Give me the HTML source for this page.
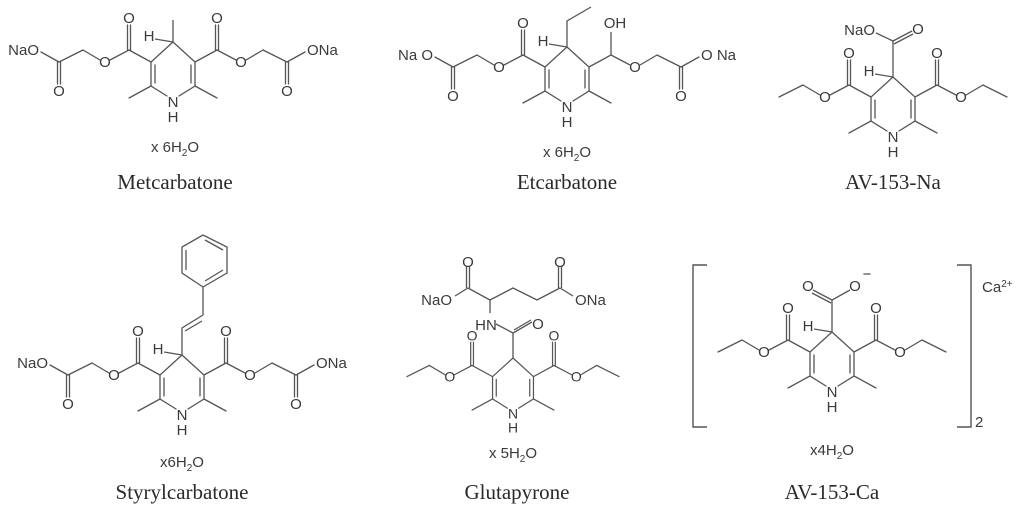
<!DOCTYPE html>
<html><head><meta charset="utf-8"><style>
html,body{margin:0;padding:0;background:#fff;}
svg{display:block;}
text{font-family:"Liberation Sans",Arial,sans-serif;font-size:15px;fill:#3a3a3a;}
.t{font-family:"Liberation Serif",serif;font-size:21px;fill:#2a2a2a;}
</style></head><body>
<svg width="1024" height="508" viewBox="0 0 1024 508" xmlns="http://www.w3.org/2000/svg">
<defs>
<g id="core" stroke="#555" stroke-width="1.3" fill="none" stroke-linecap="round">
  <path d="M0,0 L-22,20 L-22,44 L-6,54 M6,54 L22,44 L22,20 L0,0"/>
  <path d="M-18,23 L-18,41 M18,23 L18,41"/>
  <path d="M-22,44 L-44,56 M22,44 L44,56"/>
</g>
<g id="hb" stroke="#555" stroke-width="1.3" fill="none"><path d="M-18,-3 L0,0"/></g>
<g id="estL" stroke="#555" stroke-width="1.3" fill="none" stroke-linecap="round">
  <path d="M-22,20 L-44,8 M-45.5,8 L-45.5,-17 M-42.5,8 L-42.5,-17 M-44,8 L-63,18 M-73,18 L-90,8"/>
</g>
<g id="tailL" stroke="#555" stroke-width="1.3" fill="none" stroke-linecap="round">
  <path d="M-90,8 L-114,20 M-115.5,20 L-115.5,42 M-112.5,20 L-112.5,42 M-114,20 L-132,10"/>
</g>
<g id="ethL" stroke="#555" stroke-width="1.3" fill="none" stroke-linecap="round">
  <path d="M-90,8 L-114,20"/>
</g>
</defs>

<!-- Metcarbatone -->
<g transform="translate(173,42)">
  <use href="#core"/><use href="#hb"/><use href="#estL"/><use href="#tailL"/>
  <g transform="scale(-1,1)"><use href="#estL"/><use href="#tailL"/></g>
  <path d="M0,0 L0,-22" stroke="#555" stroke-width="1.3"/>
  <text x="-24" y="-1" text-anchor="middle">H</text>
  <text x="0" y="65" text-anchor="middle">N</text>
  <text x="0" y="80" text-anchor="middle">H</text>
  <text x="-44" y="-19" text-anchor="middle">O</text>
  <text x="44" y="-19" text-anchor="middle">O</text>
  <text x="-68" y="25" text-anchor="middle">O</text>
  <text x="68" y="25" text-anchor="middle">O</text>
  <text x="-114" y="54" text-anchor="middle">O</text>
  <text x="114" y="54" text-anchor="middle">O</text>
  <text x="-134" y="13" text-anchor="end">NaO</text>
  <text x="134" y="13" text-anchor="start">ONa</text>
  <text x="2" y="110" text-anchor="middle">x 6H<tspan font-size="10" dy="4">2</tspan><tspan dy="-4">O</tspan></text>
  <text class="t" x="2" y="147" text-anchor="middle">Metcarbatone</text>
</g>

<!-- Etcarbatone -->
<g transform="translate(567,47)">
  <use href="#core"/><use href="#hb"/><use href="#estL"/><use href="#tailL"/>
  <g transform="scale(-1,1)"><use href="#tailL"/></g>
  <path d="M0,0 L0,-26 L24,-40 M22,20 L44,8 L44,-15 M44,8 L63,18 M73,18 L90,8" stroke="#555" stroke-width="1.3" fill="none"/>
  <text x="-24" y="-1" text-anchor="middle">H</text>
  <text x="0" y="65" text-anchor="middle">N</text>
  <text x="0" y="80" text-anchor="middle">H</text>
  <text x="-44" y="-19" text-anchor="middle">O</text>
  <text x="48" y="-19" text-anchor="middle">OH</text>
  <text x="-68" y="25" text-anchor="middle">O</text>
  <text x="68" y="25" text-anchor="middle">O</text>
  <text x="-114" y="54" text-anchor="middle">O</text>
  <text x="114" y="54" text-anchor="middle">O</text>
  <text x="-134" y="13" text-anchor="end">Na O</text>
  <text x="134" y="13" text-anchor="start">O Na</text>
  <text x="0" y="110" text-anchor="middle">x 6H<tspan font-size="10" dy="4">2</tspan><tspan dy="-4">O</tspan></text>
  <text class="t" x="0" y="142" text-anchor="middle">Etcarbatone</text>
</g>

<!-- AV-153-Na -->
<g transform="translate(893,77)">
  <use href="#core"/><use href="#hb"/><use href="#estL"/><use href="#ethL"/>
  <g transform="scale(-1,1)"><use href="#estL"/><use href="#ethL"/></g>
  <path d="M0,0 L0,-36 L-17,-44 M0,-36 L19,-46 M1,-33 L20,-43" stroke="#555" stroke-width="1.3" fill="none"/>
  <text x="-24" y="-1" text-anchor="middle">H</text>
  <text x="0" y="65" text-anchor="middle">N</text>
  <text x="0" y="80" text-anchor="middle">H</text>
  <text x="-44" y="-19" text-anchor="middle">O</text>
  <text x="44" y="-19" text-anchor="middle">O</text>
  <text x="-68" y="25" text-anchor="middle">O</text>
  <text x="68" y="25" text-anchor="middle">O</text>
  <text x="-18" y="-42" text-anchor="end">NaO</text>
  <text x="25" y="-43" text-anchor="middle">O</text>
  <text class="t" x="0" y="112" text-anchor="middle">AV-153-Na</text>
</g>

<!-- Styrylcarbatone -->
<g transform="translate(182,355)">
  <use href="#core"/><use href="#hb"/><use href="#estL"/><use href="#tailL"/>
  <g transform="scale(-1,1)"><use href="#estL"/><use href="#tailL"/></g>
  <text x="-24" y="-1" text-anchor="middle">H</text>
  <text x="0" y="65" text-anchor="middle">N</text>
  <text x="0" y="80" text-anchor="middle">H</text>
  <text x="-44" y="-19" text-anchor="middle">O</text>
  <text x="44" y="-19" text-anchor="middle">O</text>
  <text x="-68" y="25" text-anchor="middle">O</text>
  <text x="68" y="25" text-anchor="middle">O</text>
  <text x="-114" y="54" text-anchor="middle">O</text>
  <text x="114" y="54" text-anchor="middle">O</text>
  <text x="-134" y="13" text-anchor="end">NaO</text>
  <text x="134" y="13" text-anchor="start">ONa</text>
  <text x="0" y="112" text-anchor="middle">x6H<tspan font-size="10" dy="4">2</tspan><tspan dy="-4">O</tspan></text>
  <text class="t" x="0" y="144" text-anchor="middle">Styrylcarbatone</text>
</g>
<path d="M182,355 L182,328 L203,315 M185,331 L202,321 M203,315 L203,287 M203,287 L182,273 L182,247 L203,235 L227,247 L227,273 L203,287 M186,250 L186,270 M205,240 L223,250 M223,270 L205,281" stroke="#555" stroke-width="1.3" fill="none"/>

<!-- Glutapyrone -->
<g transform="translate(513,358) scale(0.93)">
  <use href="#core"/><use href="#estL"/><use href="#ethL"/>
  <g transform="scale(-1,1)"><use href="#estL"/><use href="#ethL"/></g>
  <text x="0" y="65" text-anchor="middle">N</text>
  <text x="0" y="80" text-anchor="middle">H</text>
  <text x="-44" y="-19" text-anchor="middle">O</text>
  <text x="44" y="-19" text-anchor="middle">O</text>
  <text x="-68" y="25" text-anchor="middle">O</text>
  <text x="68" y="25" text-anchor="middle">O</text>
</g>
<path d="M513,358 L513,333 L532,322 M514,330 L531,320 M513,333 L496,324 M490,313 L490,300 L468,288 M466.5,288 L466.5,266 M469.5,288 L469.5,266 M468,288 L455,296 M490,300 L513,288 L537,300 L560,288 M558.5,288 L558.5,266 M561.5,288 L561.5,266 M560,288 L573,296" stroke="#555" stroke-width="1.3" fill="none"/>
<text x="486" y="330" text-anchor="middle">HN</text>
<text x="538" y="329" text-anchor="middle">O</text>
<text x="468" y="267" text-anchor="middle">O</text>
<text x="560" y="267" text-anchor="middle">O</text>
<text x="452" y="305" text-anchor="end">NaO</text>
<text x="575" y="305" text-anchor="start">ONa</text>
<text x="513" y="458" text-anchor="middle">x 5H<tspan font-size="10" dy="4">2</tspan><tspan dy="-4">O</tspan></text>
<text class="t" x="517" y="499" text-anchor="middle">Glutapyrone</text>

<!-- AV-153-Ca -->
<g transform="translate(832,332)">
  <use href="#core"/><use href="#hb"/><use href="#estL"/><use href="#ethL"/>
  <g transform="scale(-1,1)"><use href="#estL"/><use href="#ethL"/></g>
  <path d="M0,0 L0,-32 L18,-42 M0,-32 L-19,-42 M-1,-29 L-20,-39" stroke="#555" stroke-width="1.3" fill="none"/>
  <text x="-24" y="-1" text-anchor="middle">H</text>
  <text x="0" y="65" text-anchor="middle">N</text>
  <text x="0" y="80" text-anchor="middle">H</text>
  <text x="-44" y="-19" text-anchor="middle">O</text>
  <text x="44" y="-19" text-anchor="middle">O</text>
  <text x="-68" y="25" text-anchor="middle">O</text>
  <text x="68" y="25" text-anchor="middle">O</text>
  <text x="-24" y="-41" text-anchor="middle">O</text>
  <text x="23" y="-41" text-anchor="middle">O</text>
  <text x="35" y="-53" text-anchor="middle" font-size="11">−</text>
</g>
<path d="M707,265 L693,265 L693,427 L707,427 M957,265 L971,265 L971,427 L957,427" stroke="#555" stroke-width="1.4" fill="none"/>
<text x="975" y="427" font-size="11">2</text>
<text x="982" y="292">Ca<tspan font-size="10" dy="-5">2+</tspan></text>
<text x="832" y="455" text-anchor="middle">x4H<tspan font-size="10" dy="4">2</tspan><tspan dy="-4">O</tspan></text>
<text class="t" x="832" y="499" text-anchor="middle">AV-153-Ca</text>
</svg>
</body></html>
